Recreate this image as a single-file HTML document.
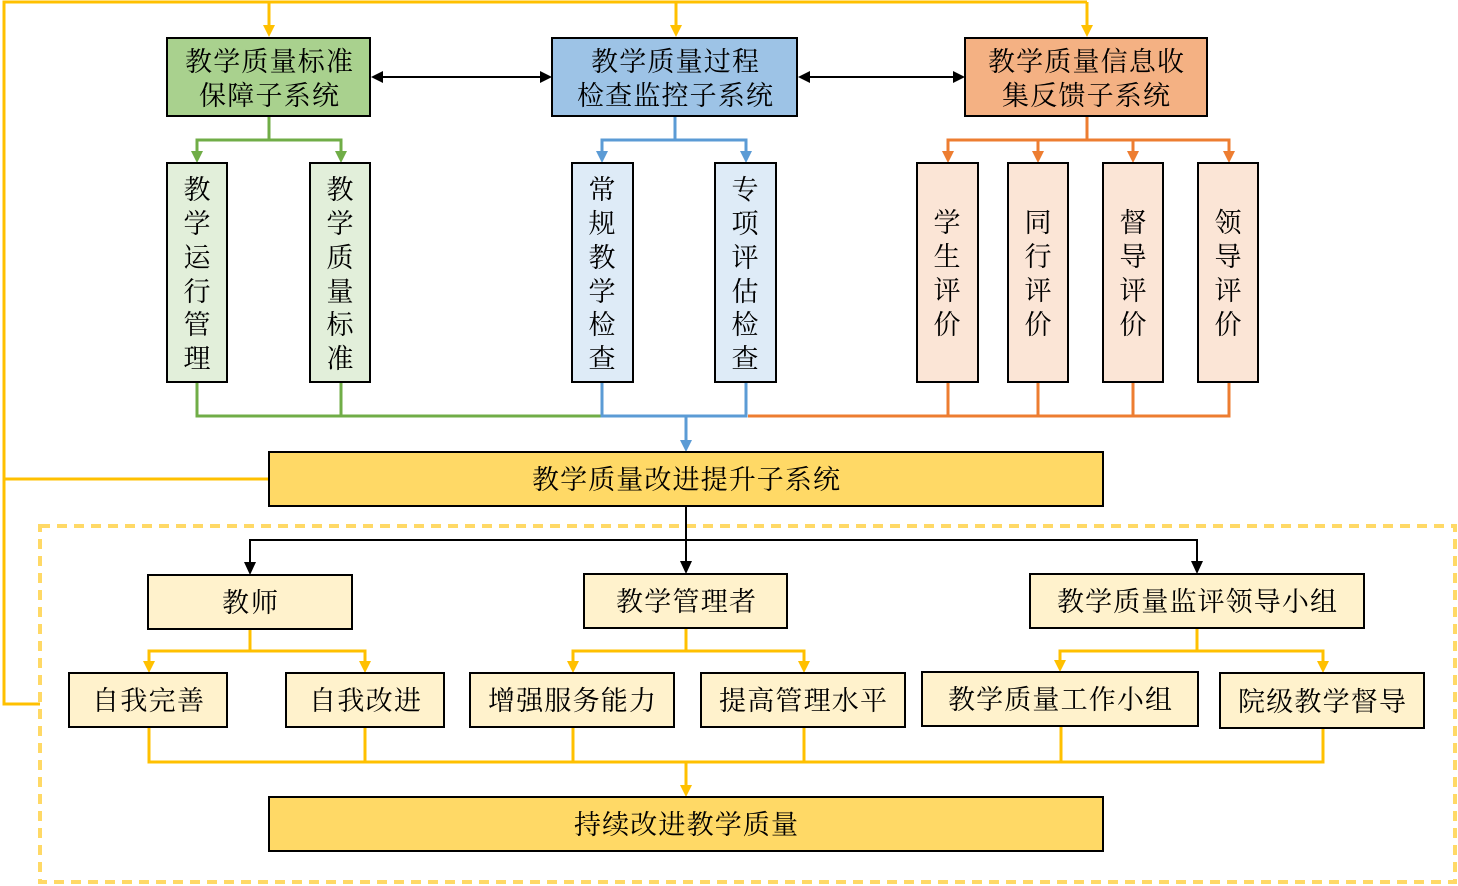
<!DOCTYPE html>
<html>
<head>
<meta charset="utf-8">
<style>
html,body{margin:0;padding:0;background:#fff;}
svg{display:block;}
text{font-family:"Liberation Serif","Noto Serif CJK SC",serif;font-size:27px;fill:#000;}
</style>
</head>
<body>
<svg width="1458" height="886" viewBox="0 0 1458 886" xmlns="http://www.w3.org/2000/svg">
<!-- outer yellow feedback lines -->
<g stroke="#ffc000" stroke-width="3" fill="none">
  <polyline points="40,704 4,704 4,2 1087,2"/>
  <line x1="4" y1="479" x2="269" y2="479"/>
  <line x1="269" y1="2" x2="269" y2="26"/>
  <line x1="676" y1="2" x2="676" y2="26"/>
  <line x1="1087" y1="2" x2="1087" y2="26"/>
</g>
<g fill="#ffc000">
  <polygon points="263,25 275,25 269,37"/>
  <polygon points="670,25 682,25 676,37"/>
  <polygon points="1081,25 1093,25 1087,37"/>
</g>

<!-- dashed container -->
<rect x="40" y="526" width="1415" height="356" fill="none" stroke="#ffd966" stroke-width="4" stroke-dasharray="10 7"/>

<!-- black double arrows -->
<g stroke="#000" stroke-width="2">
  <line x1="380" y1="77" x2="542" y2="77"/>
  <line x1="807" y1="77" x2="955" y2="77"/>
</g>
<g fill="#000">
  <polygon points="371,77 383,71 383,83"/>
  <polygon points="552,77 540,71 540,83"/>
  <polygon points="798,77 810,71 810,83"/>
  <polygon points="965,77 953,71 953,83"/>
</g>

<!-- green connectors -->
<g stroke="#70ad47" stroke-width="3" fill="none">
  <polyline points="269,116 269,140"/>
  <polyline points="197,152 197,140 341,140 341,152"/>
  <polyline points="197,382 197,416 602,416"/>
  <line x1="341" y1="382" x2="341" y2="416"/>
</g>
<g fill="#70ad47">
  <polygon points="191,151 203,151 197,163"/>
  <polygon points="335,151 347,151 341,163"/>
</g>

<!-- blue connectors -->
<g stroke="#5b9bd5" stroke-width="3" fill="none">
  <polyline points="675,116 675,140"/>
  <polyline points="602,152 602,140 746,140 746,152"/>
  <polyline points="602,382 602,416 746,416 746,382"/>
  <line x1="686" y1="416" x2="686" y2="441"/>
</g>
<g fill="#5b9bd5">
  <polygon points="596,151 608,151 602,163"/>
  <polygon points="740,151 752,151 746,163"/>
  <polygon points="680,440 692,440 686,452"/>
</g>

<!-- orange connectors -->
<g stroke="#ed7d31" stroke-width="3" fill="none">
  <polyline points="1087,116 1087,140"/>
  <polyline points="948,152 948,140 1229,140 1229,152"/>
  <line x1="1038" y1="140" x2="1038" y2="152"/>
  <line x1="1133" y1="140" x2="1133" y2="152"/>
  <polyline points="748,416 1229,416 1229,382"/>
  <line x1="948" y1="382" x2="948" y2="416"/>
  <line x1="1038" y1="382" x2="1038" y2="416"/>
  <line x1="1133" y1="382" x2="1133" y2="416"/>
</g>
<g fill="#ed7d31">
  <polygon points="942,151 954,151 948,163"/>
  <polygon points="1032,151 1044,151 1038,163"/>
  <polygon points="1127,151 1139,151 1133,163"/>
  <polygon points="1223,151 1235,151 1229,163"/>
</g>

<!-- black tree lines -->
<g stroke="#000" stroke-width="2" fill="none">
  <line x1="686" y1="506" x2="686" y2="563"/>
  <polyline points="250,563 250,540 1197,540 1197,563"/>
</g>
<g fill="#000">
  <polygon points="244,562 256,562 250,575"/>
  <polygon points="680,561 692,561 686,574"/>
  <polygon points="1191,561 1203,561 1197,574"/>
</g>

<!-- yellow bottom connectors -->
<g stroke="#ffc000" stroke-width="3" fill="none">
  <line x1="250" y1="629" x2="250" y2="651"/>
  <polyline points="149,662 149,651 365,651 365,662"/>
  <line x1="686" y1="628" x2="686" y2="651"/>
  <polyline points="573,662 573,651 804,651 804,662"/>
  <line x1="1197" y1="628" x2="1197" y2="651"/>
  <polyline points="1060,661 1060,651 1323,651 1323,662"/>
  <polyline points="149,727 149,762 1323,762 1323,728"/>
  <line x1="365" y1="727" x2="365" y2="762"/>
  <line x1="573" y1="727" x2="573" y2="762"/>
  <line x1="804" y1="727" x2="804" y2="762"/>
  <line x1="1061" y1="726" x2="1061" y2="762"/>
  <line x1="686" y1="762" x2="686" y2="786"/>
</g>
<g fill="#ffc000">
  <polygon points="143,661 155,661 149,673"/>
  <polygon points="359,661 371,661 365,673"/>
  <polygon points="567,661 579,661 573,673"/>
  <polygon points="798,661 810,661 804,673"/>
  <polygon points="1054,660 1066,660 1060,672"/>
  <polygon points="1317,661 1329,661 1323,673"/>
  <polygon points="680,785 692,785 686,797"/>
</g>

<!-- boxes -->
<g stroke="#000" stroke-width="2">
  <rect x="167" y="38" width="203" height="78" fill="#a9d18e"/>
  <rect x="552" y="38" width="245" height="78" fill="#9dc3e6"/>
  <rect x="965" y="38" width="242" height="78" fill="#f4b183"/>

  <rect x="167" y="163" width="60" height="219" fill="#e2efda"/>
  <rect x="310" y="163" width="60" height="219" fill="#e2efda"/>
  <rect x="572" y="163" width="61" height="219" fill="#deebf7"/>
  <rect x="715" y="163" width="61" height="219" fill="#deebf7"/>
  <rect x="917" y="163" width="61" height="219" fill="#fbe5d6"/>
  <rect x="1008" y="163" width="60" height="219" fill="#fbe5d6"/>
  <rect x="1103" y="163" width="60" height="219" fill="#fbe5d6"/>
  <rect x="1198" y="163" width="60" height="219" fill="#fbe5d6"/>

  <rect x="269" y="452" width="834" height="54" fill="#ffd966"/>

  <rect x="148" y="575" width="204" height="54" fill="#fff2cc"/>
  <rect x="584" y="574" width="203" height="54" fill="#fff2cc"/>
  <rect x="1030" y="574" width="334" height="54" fill="#fff2cc"/>

  <rect x="69" y="673" width="158" height="54" fill="#fff2cc"/>
  <rect x="286" y="673" width="158" height="54" fill="#fff2cc"/>
  <rect x="470" y="673" width="204" height="54" fill="#fff2cc"/>
  <rect x="701" y="673" width="204" height="54" fill="#fff2cc"/>
  <rect x="922" y="672" width="276" height="54" fill="#fff2cc"/>
  <rect x="1220" y="673" width="204" height="55" fill="#fff2cc"/>

  <rect x="269" y="797" width="834" height="54" fill="#ffd966"/>
</g>

<!-- horizontal texts -->
<g text-anchor="middle" dominant-baseline="central" lengthAdjust="spacing">
  <text x="269" y="62" textLength="168">教学质量标准</text>
  <text x="269" y="96" textLength="140">保障子系统</text>
  <text x="675" y="62" textLength="168">教学质量过程</text>
  <text x="675" y="96" textLength="196">检查监控子系统</text>
  <text x="1086" y="62" textLength="196">教学质量信息收</text>
  <text x="1086" y="96" textLength="168">集反馈子系统</text>

  <text x="686" y="480" textLength="308">教学质量改进提升子系统</text>

  <text x="250" y="603" textLength="56">教师</text>
  <text x="686" y="602" textLength="140">教学管理者</text>
  <text x="1197" y="602" textLength="280">教学质量监评领导小组</text>

  <text x="148" y="701" textLength="112">自我完善</text>
  <text x="365" y="701" textLength="112">自我改进</text>
  <text x="572" y="701" textLength="168">增强服务能力</text>
  <text x="803" y="701" textLength="168">提高管理水平</text>
  <text x="1060" y="700" textLength="224">教学质量工作小组</text>
  <text x="1322" y="702" textLength="168">院级教学督导</text>

  <text x="686" y="825" textLength="224">持续改进教学质量</text>
</g>

<!-- vertical texts -->
<g text-anchor="middle" dominant-baseline="central">
  <text x="197" y="190">教</text><text x="197" y="224">学</text><text x="197" y="258">运</text><text x="197" y="292">行</text><text x="197" y="325">管</text><text x="197" y="359">理</text>
  <text x="340" y="190">教</text><text x="340" y="224">学</text><text x="340" y="258">质</text><text x="340" y="292">量</text><text x="340" y="325">标</text><text x="340" y="359">准</text>
  <text x="602" y="190">常</text><text x="602" y="224">规</text><text x="602" y="258">教</text><text x="602" y="292">学</text><text x="602" y="325">检</text><text x="602" y="359">查</text>
  <text x="745" y="190">专</text><text x="745" y="224">项</text><text x="745" y="258">评</text><text x="745" y="292">估</text><text x="745" y="325">检</text><text x="745" y="359">查</text>

  <text x="947" y="223">学</text><text x="947" y="257">生</text><text x="947" y="291">评</text><text x="947" y="325">价</text>
  <text x="1038" y="223">同</text><text x="1038" y="257">行</text><text x="1038" y="291">评</text><text x="1038" y="325">价</text>
  <text x="1133" y="223">督</text><text x="1133" y="257">导</text><text x="1133" y="291">评</text><text x="1133" y="325">价</text>
  <text x="1228" y="223">领</text><text x="1228" y="257">导</text><text x="1228" y="291">评</text><text x="1228" y="325">价</text>
</g>
</svg>
</body>
</html>
